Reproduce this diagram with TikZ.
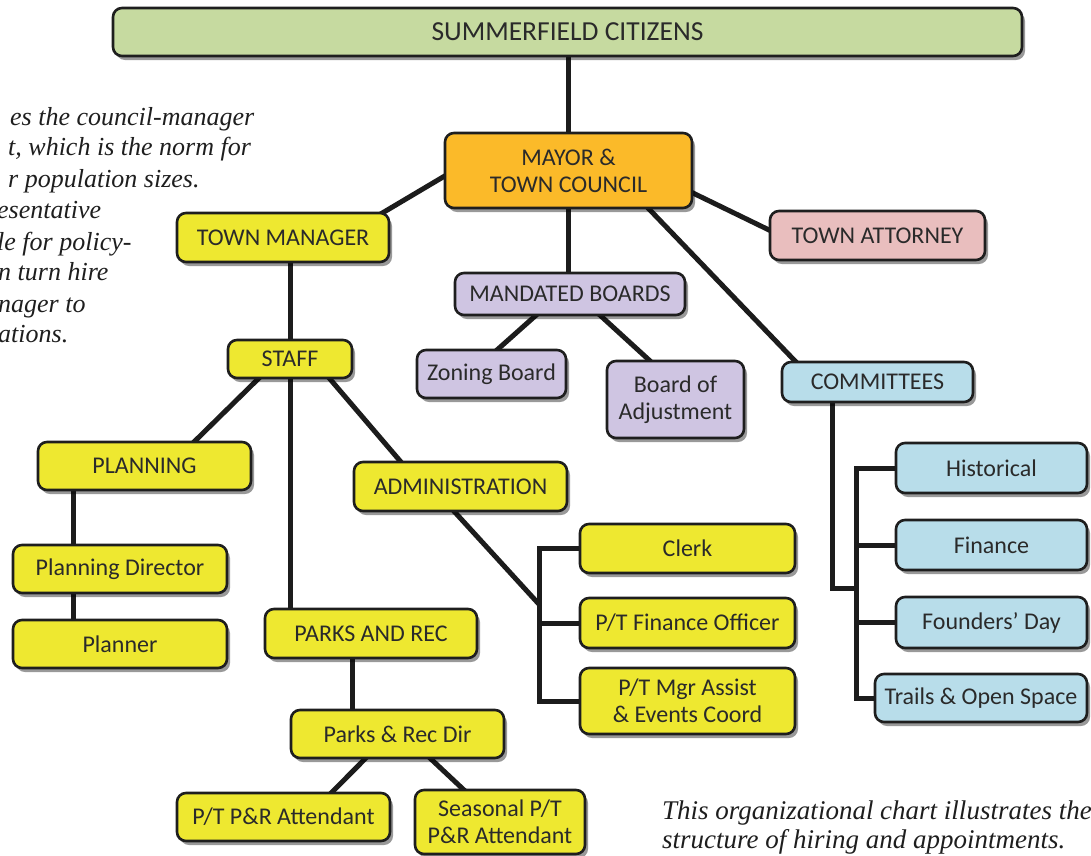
\documentclass[tikz,border=0pt]{standalone}
\usepackage{fontspec}
\setmainfont{Carlito}
\newfontfamily\notefont{Liberation Serif}
\usetikzlibrary{shadows,calc}
\definecolor{grn}{RGB}{198,218,160}
\definecolor{org}{RGB}{251,186,41}
\definecolor{yel}{RGB}{238,232,48}
\definecolor{pnk}{RGB}{233,190,190}
\definecolor{lav}{RGB}{207,197,226}
\definecolor{blu}{RGB}{184,221,234}
\definecolor{boxline}{RGB}{30,30,30}
\definecolor{lin}{RGB}{28,28,28}
\definecolor{txt}{RGB}{42,42,42}
\definecolor{notetxt}{RGB}{30,30,30}
\pgfdeclarelayer{bg}
\pgfsetlayers{bg,main}
\begin{document}
\begin{tikzpicture}[x=1pt,y=-1pt,
  box/.style={draw=boxline, line width=2.6pt, rounded corners=9pt, text=txt,
    font=\fontsize{24}{27}\selectfont, align=center, inner sep=0pt,
    drop shadow={shadow xshift=3pt, shadow yshift=-4pt, opacity=0.4, fill=black}},
  conn/.style={line width=5pt, draw=lin},
  note/.style={font=\notefont\itshape\fontsize{26}{31}\selectfont, anchor=base west, inner sep=0pt, text=notetxt}]
\useasboundingbox (0,0) rectangle (1091,855);

% notes
\node[note] (n1) at (10,125) {es the council-manager};
\node[note] (n2) at (8,155) {t, which is the norm for};
\node[note] (n3) at (8,187) {r population sizes.};
\node[note] (n4) at (-3,218) {esentative};
\node[note] (n5) at (-3,250) {le for policy-};
\node[note] (n6) at (-2,280) {n turn hire};
\node[note] (n7) at (-2,312) {nager to};
\node[note] (n8) at (-2,342) {ations.};
\node[note, font=\notefont\itshape\fontsize{27}{31}\selectfont] (b1) at (662,819) {This organizational chart illustrates the};
\node[note, font=\notefont\itshape\fontsize{27}{31}\selectfont] (b2) at (662,848) {structure of hiring and appointments.};

% boxes
\node[box, fill=grn, minimum width=909, minimum height=48, font=\fontsize{27.5}{30}\selectfont] (cit) at (567.5,32) {SUMMERFIELD CITIZENS};
\node[box, fill=org, minimum width=247, minimum height=75] (mayor) at (568.5,170.5) {MAYOR \&\\TOWN COUNCIL};
\node[box, fill=yel, minimum width=212, minimum height=49] (tm) at (283,237.5) {TOWN MANAGER};
\node[box, fill=pnk, minimum width=215, minimum height=49] (ta) at (877.5,235.5) {TOWN ATTORNEY};
\node[box, fill=lav, minimum width=230, minimum height=42] (mb) at (570,294) {MANDATED BOARDS};
\node[box, fill=lav, minimum width=149, minimum height=48] (zb) at (491.5,374) {Zoning Board};
\node[box, fill=lav, minimum width=137, minimum height=77] (boa) at (675.5,399.5) {Board of\\Adjustment};
\node[box, fill=blu, minimum width=191, minimum height=40] (com) at (877.5,382) {COMMITTEES};
\node[box, fill=yel, minimum width=124, minimum height=38] (staff) at (290,359) {STAFF};
\node[box, fill=yel, minimum width=213, minimum height=48] (plan) at (144.5,466) {PLANNING};
\node[box, fill=yel, minimum width=213, minimum height=49] (admin) at (460.5,486.5) {ADMINISTRATION};
\node[box, fill=yel, minimum width=214, minimum height=48] (pd) at (120,569) {Planning Director};
\node[box, fill=yel, minimum width=214, minimum height=48] (planner) at (120,644) {Planner};
\node[box, fill=yel, minimum width=212, minimum height=49] (par) at (371,633.5) {PARKS AND REC};
\node[box, fill=yel, minimum width=213, minimum height=48] (prd) at (397.5,734) {Parks \& Rec Dir};
\node[box, fill=yel, minimum width=213, minimum height=48] (att) at (283.5,817) {P/T P\&R Attendant};
\node[box, fill=yel, minimum width=170, minimum height=64] (seas) at (500,822) {Seasonal P/T\\P\&R Attendant};
\node[box, fill=yel, minimum width=215, minimum height=49] (clerk) at (687.5,548.5) {Clerk};
\node[box, fill=yel, minimum width=215, minimum height=50] (fin) at (687.5,623) {P/T Finance Officer};
\node[box, fill=yel, minimum width=215, minimum height=66] (mgr) at (687.5,701) {P/T Mgr Assist\\\& Events Coord};
\node[box, fill=blu, minimum width=191, minimum height=50] (hist) at (991.5,468) {Historical};
\node[box, fill=blu, minimum width=191, minimum height=50] (finc) at (991.5,545) {Finance};
\node[box, fill=blu, minimum width=191, minimum height=51] (found) at (991.5,622.5) {Founders’ Day};
\node[box, fill=blu, minimum width=212, minimum height=48] (trails) at (981,698) {Trails \& Open Space};

% connectors
\begin{pgfonlayer}{bg}
\draw[conn] (mayor.north|-cit.south) -- (mayor.north);
\draw[conn] ($(mayor.west)+(17,-4)$) -- ($(tm.east)+(-24,-15)$);
\draw[conn] ($(mayor.east)+(-15.6,15.1)$) -- ($(ta.west)+(15.6,1.9)$);
\draw[conn] (mayor.south) -- (mayor.south|-mb.north);
\draw[conn] ($(mayor.south)+(77.8,-3.1)$) -- ($(com.north)+(-77,6)$);
\draw[conn] ($(mb.south)+(-30,-4.6)$) -- ($(zb.north)+(-0.5,6.6)$);
\draw[conn] ($(mb.south)+(24,-6.6)$) -- ($(boa.north)+(-18.5,7.6)$);
\draw[conn] (staff.north|-tm.south) -- (staff.north);
\draw[conn] ($(staff.south)+(-22.5,-9.6)$) -- ($(plan.north)+(41,9.6)$);
\draw[conn] (staff.south) -- (staff.south|-par.north);
\draw[conn] ($(staff.south)+(31.6,-10.1)$) -- ($(admin.north)+(-52.1,10)$);
\draw[conn] ($(plan.south west)+(37,0)$) -- ($(pd.north west)+(62,0)$);
\draw[conn] ($(pd.south west)+(62,0)$) -- ($(planner.north west)+(62,0)$);
\draw[conn] ($(par.south)+(-19,0)$) -- ($(prd.north)+(-45.5,0)$);
\draw[conn] ($(prd.south)+(-28.9,-4)$) -- ($(att.north)+(45.9,3)$);
\draw[conn] ($(prd.south)+(29.5,-4)$) -- ($(seas.north)+(-31,6)$);
% admin bracket
\coordinate (ab) at ($(clerk.west)+(-39,0)$);
\coordinate (aj) at ($(ab|-fin.west)+(0,-18)$);
\draw[conn] ($(admin.south)+(-14.1,-9.4)$) -- (aj);
\draw[conn] (clerk.west) -| (ab) |- (mgr.west);
\draw[conn] (ab|-fin.west) -- (fin.west);
% committees bracket
\coordinate (cb) at ($(hist.west)+(-38,0)$);
\coordinate (cj) at ($(cb|-finc.west)+(0,43)$);
\draw[conn] ($(com.south)+(-45.5,0)$) |- (cj);
\draw[conn] (hist.west) -| (cb) |- (trails.west);
\draw[conn] (cb|-finc.west) -- (finc.west);
\draw[conn] (cb|-found.west) -- (found.west);
\end{pgfonlayer}
\end{tikzpicture}
\end{document}
